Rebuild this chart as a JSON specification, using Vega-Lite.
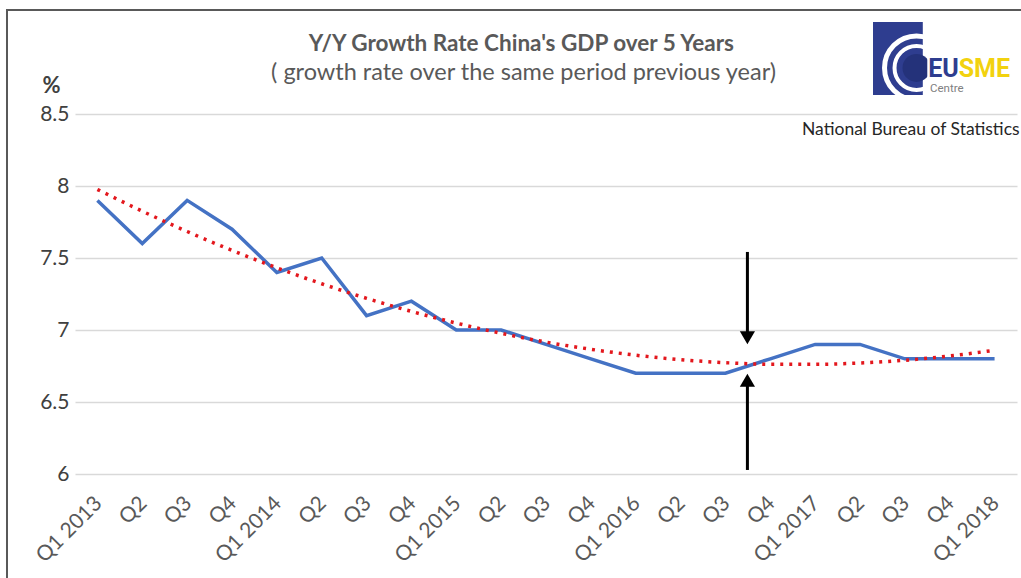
{
  "$schema": "https://vega.github.io/schema/vega-lite/v6.json",
  "width": 942,
  "height": 360,
  "autosize": {"type": "none"},
  "padding": {"left": 75, "top": 114, "right": 4, "bottom": 104},
  "background": "white",
  "config": {"view": {"stroke": null}, "font": "Lato"},
  "datasets": {
    "gdp": [
      {"i": 0, "quarter": "Q1 2013", "growth": 7.9, "trend": 7.976},
      {"i": 1, "quarter": "Q2 2013", "growth": 7.6, "trend": 7.825},
      {"i": 2, "quarter": "Q3 2013", "growth": 7.9, "trend": 7.684},
      {"i": 3, "quarter": "Q4 2013", "growth": 7.7, "trend": 7.553},
      {"i": 4, "quarter": "Q1 2014", "growth": 7.4, "trend": 7.432},
      {"i": 5, "quarter": "Q2 2014", "growth": 7.5, "trend": 7.321},
      {"i": 6, "quarter": "Q3 2014", "growth": 7.1, "trend": 7.220},
      {"i": 7, "quarter": "Q4 2014", "growth": 7.2, "trend": 7.129},
      {"i": 8, "quarter": "Q1 2015", "growth": 7.0, "trend": 7.048},
      {"i": 9, "quarter": "Q2 2015", "growth": 7.0, "trend": 6.977},
      {"i": 10, "quarter": "Q3 2015", "growth": 6.9, "trend": 6.916},
      {"i": 11, "quarter": "Q4 2015", "growth": 6.8, "trend": 6.866},
      {"i": 12, "quarter": "Q1 2016", "growth": 6.7, "trend": 6.825},
      {"i": 13, "quarter": "Q2 2016", "growth": 6.7, "trend": 6.794},
      {"i": 14, "quarter": "Q3 2016", "growth": 6.7, "trend": 6.773},
      {"i": 15, "quarter": "Q4 2016", "growth": 6.8, "trend": 6.762},
      {"i": 16, "quarter": "Q1 2017", "growth": 6.9, "trend": 6.762},
      {"i": 17, "quarter": "Q2 2017", "growth": 6.9, "trend": 6.771},
      {"i": 18, "quarter": "Q3 2017", "growth": 6.8, "trend": 6.790},
      {"i": 19, "quarter": "Q4 2017", "growth": 6.8, "trend": 6.820},
      {"i": 20, "quarter": "Q1 2018", "growth": 6.8, "trend": 6.859}
    ],
    "arrows": [
      {"x": 14.49, "tail": 7.542, "head": 6.946, "dir": "down"},
      {"x": 14.49, "tail": 6.028, "head": 6.651, "dir": "up"}
    ]
  },
  "layer": [
    {
      "data": {"values": [{}]},
      "mark": {"type": "rect", "fillOpacity": 0, "stroke": "#595959", "strokeWidth": 2},
      "encoding": {
        "x": {"datum": -2.016, "type": "quantitative", "scale": {"domain": [-0.5, 20.5], "nice": false, "zero": false}},
        "x2": {"datum": 20.8},
        "y": {"datum": 9.222, "type": "quantitative", "scale": {"domain": [6, 8.5], "nice": false, "zero": false}},
        "y2": {"datum": 5.19}
      }
    },
    {
      "data": {"values": [{"text": "Y/Y Growth Rate China's GDP over 5 Years"}]},
      "mark": {"type": "text", "align": "center", "baseline": "alphabetic", "font": "Lato", "fontSize": 22.5, "fontWeight": "bold", "color": "#595959"},
      "encoding": {
        "x": {"datum": 9.45, "type": "quantitative", "scale": {"domain": [-0.5, 20.5], "nice": false, "zero": false}},
        "y": {"datum": 8.937, "type": "quantitative", "scale": {"domain": [6, 8.5], "nice": false, "zero": false}},
        "text": {"field": "text"}
      }
    },
    {
      "data": {"values": [{"text": "( growth rate over the same period previous year)"}]},
      "mark": {"type": "text", "align": "center", "baseline": "alphabetic", "font": "Lato", "fontSize": 23.5, "color": "#595959"},
      "encoding": {
        "x": {"datum": 9.5, "type": "quantitative", "scale": {"domain": [-0.5, 20.5], "nice": false, "zero": false}},
        "y": {"datum": 8.736, "type": "quantitative", "scale": {"domain": [6, 8.5], "nice": false, "zero": false}},
        "text": {"field": "text"}
      }
    },
    {
      "data": {"values": [{}]},
      "mark": {"type": "rect", "fill": "#2E3D8F"},
      "encoding": {
        "x": {"datum": 17.29, "type": "quantitative", "scale": {"domain": [-0.5, 20.5], "nice": false, "zero": false}},
        "x2": {"datum": 18.4},
        "y": {"datum": 9.139, "type": "quantitative", "scale": {"domain": [6, 8.5], "nice": false, "zero": false}},
        "y2": {"datum": 8.632}
      }
    },
    {
      "data": {"values": [{"r": 4096, "w": 5}, {"r": 1936, "w": 4}]},
      "mark": {"type": "point", "filled": false, "stroke": "white", "opacity": 1},
      "encoding": {
        "x": {"datum": 18.26, "type": "quantitative", "scale": {"domain": [-0.5, 20.5], "nice": false, "zero": false}},
        "y": {"datum": 8.82, "type": "quantitative", "scale": {"domain": [6, 8.5], "nice": false, "zero": false}},
        "size": {"field": "r", "type": "quantitative", "scale": null},
        "strokeWidth": {"field": "w", "type": "quantitative", "scale": null}
      }
    },
    {
      "data": {"values": [{}]},
      "mark": {"type": "point", "filled": true, "color": "#24327A", "opacity": 1, "size": 784},
      "encoding": {
        "x": {"datum": 18.26, "type": "quantitative", "scale": {"domain": [-0.5, 20.5], "nice": false, "zero": false}},
        "y": {"datum": 8.82, "type": "quantitative", "scale": {"domain": [6, 8.5], "nice": false, "zero": false}}
      }
    },
    {
      "data": {"values": [{}]},
      "mark": {"type": "rect", "fill": "white"},
      "encoding": {
        "x": {"datum": 18.5, "type": "quantitative", "scale": {"domain": [-0.5, 20.5], "nice": false, "zero": false}},
        "x2": {"datum": 19.1},
        "y": {"datum": 8.9, "type": "quantitative", "scale": {"domain": [6, 8.5], "nice": false, "zero": false}},
        "y2": {"datum": 8.6}
      }
    },
    {
      "data": {"values": [{}]},
      "mark": {"type": "text", "text": "EU", "align": "left", "baseline": "alphabetic", "font": "Roboto", "fontWeight": "bold", "fontSize": 25, "color": "#2E3D8F"},
      "encoding": {
        "x": {"datum": 18.52, "type": "quantitative", "scale": {"domain": [-0.5, 20.5], "nice": false, "zero": false}},
        "y": {"datum": 8.755, "type": "quantitative", "scale": {"domain": [6, 8.5], "nice": false, "zero": false}}
      }
    },
    {
      "data": {"values": [{}]},
      "mark": {"type": "text", "text": "SME", "align": "left", "baseline": "alphabetic", "font": "Roboto", "fontWeight": "bold", "fontSize": 25, "color": "#F2D20F"},
      "encoding": {
        "x": {"datum": 19.2, "type": "quantitative", "scale": {"domain": [-0.5, 20.5], "nice": false, "zero": false}},
        "y": {"datum": 8.755, "type": "quantitative", "scale": {"domain": [6, 8.5], "nice": false, "zero": false}}
      }
    },
    {
      "data": {"values": [{}]},
      "mark": {"type": "text", "text": "Centre", "align": "left", "baseline": "alphabetic", "font": "Roboto", "fontSize": 11.5, "color": "#808080"},
      "encoding": {
        "x": {"datum": 18.56, "type": "quantitative", "scale": {"domain": [-0.5, 20.5], "nice": false, "zero": false}},
        "y": {"datum": 8.65, "type": "quantitative", "scale": {"domain": [6, 8.5], "nice": false, "zero": false}}
      }
    },
    {
      "data": {"values": [{}]},
      "mark": {"type": "text", "text": "National Bureau of Statistics", "align": "left", "baseline": "middle", "font": "Lato", "fontSize": 17.5, "color": "#262626"},
      "encoding": {
        "x": {"datum": 15.707, "type": "quantitative", "scale": {"domain": [-0.5, 20.5], "nice": false, "zero": false}},
        "y": {"datum": 8.389, "type": "quantitative", "scale": {"domain": [6, 8.5], "nice": false, "zero": false}}
      }
    },
    {
      "data": {"name": "gdp"},
      "mark": {"type": "line", "color": "#4472C4", "strokeWidth": 3.5},
      "encoding": {
        "x": {
          "field": "i", "type": "quantitative",
          "scale": {"domain": [-0.5, 20.5], "nice": false, "zero": false},
          "axis": {
            "values": [0,1,2,3,4,5,6,7,8,9,10,11,12,13,14,15,16,17,18,19,20],
            "labelExpr": "['Q1 2013','Q2','Q3','Q4','Q1 2014','Q2','Q3','Q4','Q1 2015','Q2','Q3','Q4','Q1 2016','Q2','Q3','Q4','Q1 2017','Q2','Q3','Q4','Q1 2018'][datum.value]",
            "title": null,
            "grid": false,
            "domain": false,
            "ticks": false,
            "labelAngle": -45,
            "labelAlign": "right",
            "labelBaseline": "middle",
            "labelPadding": 26,
            "labelOffset": 1,
            "labelFont": "Lato",
            "labelFontSize": 21,
            "labelColor": "#595959",
            "labelOverlap": false,
            "labelBound": false,
            "labelFlush": false
          }
        },
        "y": {
          "field": "growth", "type": "quantitative",
          "scale": {"domain": [6, 8.5], "nice": false, "zero": false},
          "axis": {
            "values": [6, 6.5, 7, 7.5, 8, 8.5],
            "format": ".2~f",
            "title": "%",
            "titleAngle": 0,
            "titleX": -24,
            "titleY": -29,
            "titleAlign": "center",
            "titleBaseline": "middle",
            "titleFont": "Lato",
            "titleFontSize": 22,
            "titleFontWeight": "bold",
            "titleColor": "#404040",
            "grid": true,
            "gridColor": "#D9D9D9",
            "gridWidth": 1.5,
            "domain": false,
            "ticks": false,
            "labelPadding": 6,
            "labelFont": "Lato",
            "labelFontSize": 21,
            "labelColor": "#404040"
          }
        }
      }
    },
    {
      "data": {"name": "gdp"},
      "mark": {"type": "line", "color": "#E3171D", "strokeWidth": 3.5, "strokeDash": [3, 6], "interpolate": "monotone"},
      "encoding": {
        "x": {"field": "i", "type": "quantitative", "scale": {"domain": [-0.5, 20.5], "nice": false, "zero": false}},
        "y": {"field": "trend", "type": "quantitative", "scale": {"domain": [6, 8.5], "nice": false, "zero": false}}
      }
    },
    {
      "data": {"name": "arrows"},
      "mark": {"type": "rule", "color": "black", "strokeWidth": 3},
      "encoding": {
        "x": {"field": "x", "type": "quantitative", "scale": {"domain": [-0.5, 20.5], "nice": false, "zero": false}},
        "y": {"field": "tail", "type": "quantitative", "scale": {"domain": [6, 8.5], "nice": false, "zero": false}},
        "y2": {"field": "head"}
      }
    },
    {
      "data": {"name": "arrows"},
      "mark": {"type": "point", "filled": true, "color": "black", "opacity": 1, "size": 230},
      "encoding": {
        "x": {"field": "x", "type": "quantitative", "scale": {"domain": [-0.5, 20.5], "nice": false, "zero": false}},
        "y": {"field": "head", "type": "quantitative", "scale": {"domain": [6, 8.5], "nice": false, "zero": false}},
        "shape": {"field": "dir", "type": "nominal", "scale": {"domain": ["down", "up"], "range": ["triangle-down", "triangle-up"]}, "legend": null}
      }
    }
  ]
}
